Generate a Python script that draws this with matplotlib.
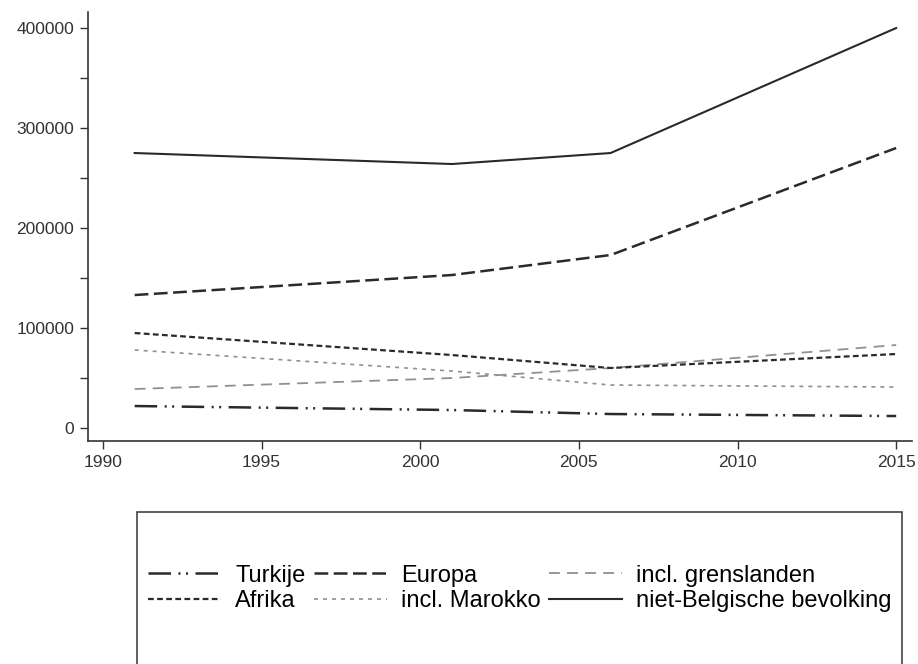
import matplotlib
matplotlib.use("Agg")
import matplotlib.pyplot as plt
from matplotlib.patches import Rectangle

plt.rcParams['font.family'] = ['Liberation Sans', 'DejaVu Sans']

years = [1991, 2001, 2006, 2015]
turkije = [22000, 18000, 14000, 12000]
europa = [133000, 153000, 173000, 280000]
grenslanden = [39000, 50000, 60000, 83000]
afrika = [95000, 73000, 60000, 74000]
marokko = [78000, 57000, 43000, 41000]
niet_belg = [275000, 264000, 275000, 400000]

labels = ['Turkije', 'Europa', 'incl. grenslanden', 'Afrika', 'incl. Marokko', 'niet-Belgische bevolking']
xticks = [1990, 1995, 2000, 2005, 2010, 2015]
yticks = [0, 100000, 200000, 300000, 400000]
yminor = [50000, 150000, 250000, 350000]

fig = plt.figure(figsize=(9.18, 6.64), dpi=100)
ax = fig.add_axes([0.0959, 0.3358, 0.8976, 0.6461])

dark = '#2a2a2a'
light = '#909090'
h_tur, = ax.plot(years, turkije, color=dark, lw=1.8, dashes=(9, 3, 0.8, 2.2, 0.8, 3))
h_eur, = ax.plot(years, europa, color=dark, lw=1.8, dashes=(5.5, 2.2))
h_gre, = ax.plot(years, grenslanden, color=light, lw=1.3, dashes=(6, 4))
h_afr, = ax.plot(years, afrika, color=dark, lw=1.6, dashes=(2.6, 1.5))
h_mar, = ax.plot(years, marokko, color=light, lw=1.2, dashes=(2.4, 3))
h_nb, = ax.plot(years, niet_belg, color=dark, lw=1.5)

ax.set_xlim(1989.53, 2015.5)
ax.set_ylim(-13000, 416000)
ax.set_xticks(xticks)
ax.set_xticklabels([str(x) for x in xticks])
ax.set_yticks(yticks)
ax.set_yticklabels([str(y) for y in yticks])
ax.set_yticks(yminor, minor=True)
for s in ['top', 'right']:
    ax.spines[s].set_visible(False)
for s in ['left', 'bottom']:
    ax.spines[s].set_color('#333333')
    ax.spines[s].set_linewidth(1.2)
ax.tick_params(axis='both', labelsize=12.5, colors='#333333', length=6, width=1, pad=4)
ax.tick_params(axis='y', which='minor', length=6, width=1, colors='#333333')

# legend frame
fig.patches.append(Rectangle((137/918, -0.05), (902-137)/918, (664-512)/664 + 0.05,
                             transform=fig.transFigure, fill=False,
                             edgecolor='#444444', lw=1.2, clip_on=False))
handles = [h_tur, h_afr, h_eur, h_mar, h_gre, h_nb]
lab = [labels[0], labels[3], labels[1], labels[4], labels[2], labels[5]]
fig.legend(handles, lab, ncol=3, frameon=False, fontsize=17,
           loc='center left', bbox_to_anchor=(148/918, 0.114),
           handlelength=3.1, handletextpad=0.6, columnspacing=0.35,
           labelspacing=0.15, borderpad=0, borderaxespad=0)

fig.savefig('out.png', dpi=100)
